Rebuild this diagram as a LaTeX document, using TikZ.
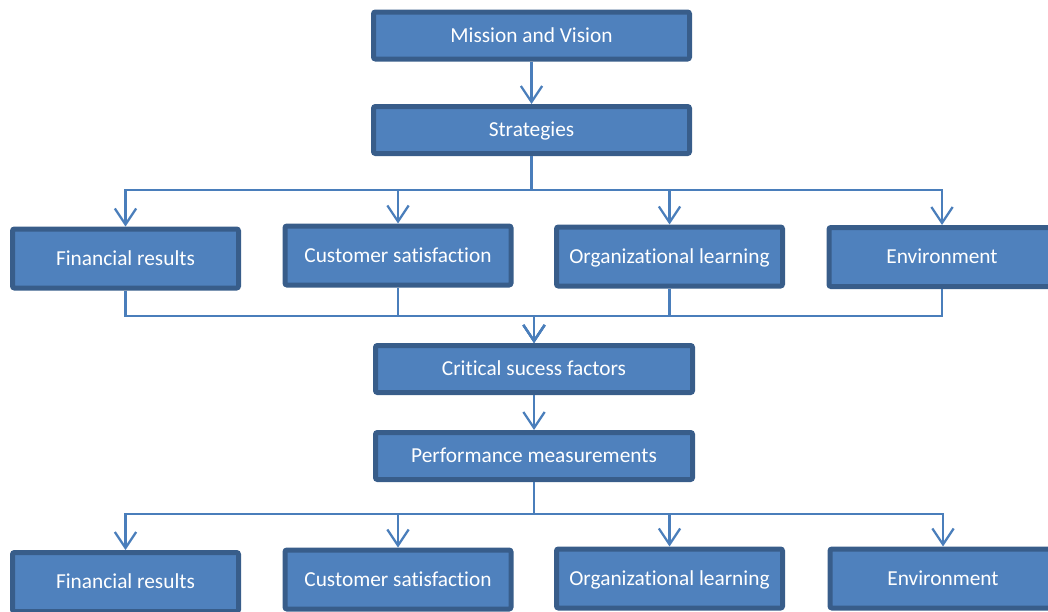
\documentclass[tikz,border=0pt]{standalone}
\usepackage{fontspec}
\setmainfont[Ligatures=NoCommon]{Carlito}
\usetikzlibrary{arrows.meta}
\definecolor{boxfill}{HTML}{4F81BD}
\definecolor{boxline}{HTML}{385D8A}
\definecolor{conn}{HTML}{4A7EBB}
\tikzset{
  box/.style={draw=boxline, fill=boxfill, line width=3.75pt, rounded corners=1.5pt,
    text=white, font=\fontsize{16}{19}\selectfont, inner sep=0pt, text depth=0pt, text height=9.75pt},
  wide/.style={box, minimum width=237pt, minimum height=35.25pt},
  branch/.style={box, minimum width=169.5pt, minimum height=44.25pt},
  link/.style={draw=conn, line width=1.7pt},
  arr/.style={link, -{Straight Barb[length=12pt,width=16pt,line width=1.7pt]}}
}
\begin{document}
\begin{tikzpicture}[x=0.75pt,y=-0.75pt]
\useasboundingbox (0,0) rectangle (1048,611);
\node[wide] (mv) at (531.5,35.5) {Mission and Vision};
\node[wide] (st) at (531.5,130) {Strategies};
\node[branch] (f1) at (125.5,258.5) {Financial results};
\node[branch] (c1) at (398,255.5) {Customer satisfaction};
\node[branch] (o1) at (669.5,256.5) {Organizational learning};
\node[branch] (e1) at (942,257) {Environment};
\node[wide, minimum width=237.75pt] (cs) at (534,369) {Critical sucess factors};
\node[wide, minimum width=237.75pt] (pm) at (534,456) {Performance measurements};
\node[branch] (f2) at (125.5,582) {Financial results};
\node[branch] (c2) at (398,579.5) {Customer satisfaction};
\node[branch] (o2) at (669.5,578.5) {Organizational learning};
\node[branch] (e2) at (943,578.5) {Environment};

\coordinate (y1) at (0,190);
\coordinate (y2) at (0,316);
\coordinate (y3) at (0,514);

\draw[arr] (mv.south) -- (st.north);
\foreach \n in {f1,c1,o1,e1}
  \draw[arr] (st.south) -- (st.south |- y1) -| (\n.north);
\foreach \n in {f1,c1,o1,e1}
  \draw[arr] (\n.south) -- (\n.south |- y2) -| (cs.north);
\draw[arr] (cs.south) -- (pm.north);
\foreach \n in {f2,c2,o2,e2}
  \draw[arr] (pm.south) -- (pm.south |- y3) -| (\n.north);
\end{tikzpicture}
\end{document}
